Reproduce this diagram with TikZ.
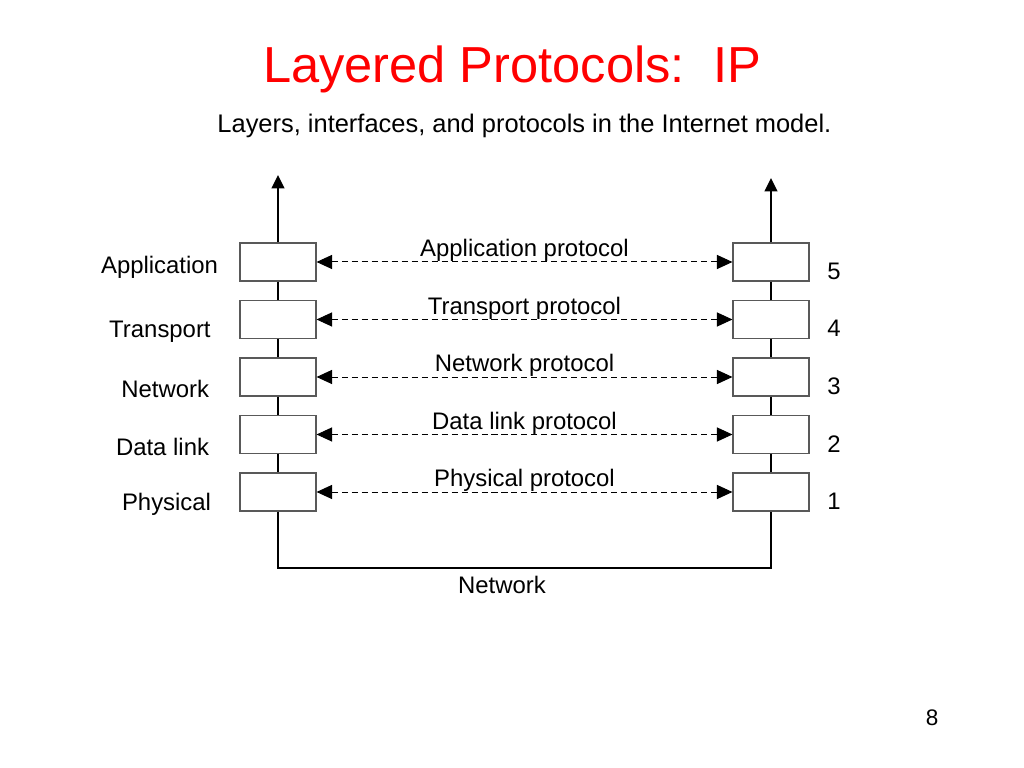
\documentclass[tikz,border=0pt]{standalone}
\usepackage{fontspec}
\setmainfont{Liberation Sans}
\usepackage{xcolor}
\usetikzlibrary{arrows.meta,positioning}
\definecolor{titlered}{RGB}{255,0,0}
\tikzset{
  layerbox/.style={draw=black!65, line width=0.8pt, fill=white, minimum width=1.9cm, minimum height=0.95cm, inner sep=0pt},
  stack/.style={line width=1.4pt},
  peer/.style={line width=0.7pt, dash pattern=on 4.3pt off 2.8pt, {Triangle[length=11pt,width=10pt]}-{Triangle[length=11pt,width=10pt]}},
  lbl/.style={font=\fontsize{17}{20}\selectfont}
}

\begin{document}
\begin{tikzpicture}
    \useasboundingbox (0,0) rectangle (25.6,19.2);

    % Title and caption
    \node[anchor=base, text=titlered, font=\fontsize{36}{40}\selectfont] (title) at (12.8,17.125) {Layered Protocols:\ \ IP};
    \node[anchor=base, font=\fontsize{18.1}{22}\selectfont] (caption) at (13.11,15.875) {Layers, interfaces, and protocols in the Internet model.};

    % Layer boxes on both hosts, with peer protocols
    \foreach \name/\lab/\n/\lx/\ly [count=\i from 0] in {app/Application/5/5.575/0.125, tra/Transport/4/5.39/0.3, net/Network/3/5.35/0.3, dl/Data link/2/5.35/0.3, phy/Physical/1/5.4/0.3} {
        \pgfmathsetmacro{\y}{12.65-1.4375*\i}
        \node[layerbox] (L\name) at (6.95,\y) {};
        \node[layerbox] (R\name) at (19.275,\y) {};
        \node[lbl, anchor=east] (T\name) at (\lx,\y-\ly) {\lab};
        \node[lbl] (N\name) at (20.85,\y-0.23) {\n};
        \draw[peer] (L\name.east) -- node[lbl, yshift=0.28cm] (P\name) {\lab{} protocol} (R\name.west);
    }

    % Vertical stacks
    \coordinate (Ltop) at (6.95,14.825);
    \coordinate (Rtop) at (19.275,14.75);
    \draw[stack, -{Triangle[length=9.5pt,width=9pt]}] (Lapp.north) -- (Ltop);
    \draw[stack, -{Triangle[length=9.5pt,width=9pt]}] (Rapp.north) -- (Rtop);
    \foreach \a/\b in {app/tra, tra/net, net/dl, dl/phy} {
        \draw[stack] (L\a.south) -- (L\b.north);
        \draw[stack] (R\a.south) -- (R\b.north);
    }

    % Physical network
    \coordinate (netL) at (6.95,5.0);
    \coordinate (netR) at (19.275,5.0);
    \draw[stack] (Lphy.south) -- (netL) -- (netR) -- (Rphy.south);
    \node[lbl] (netlbl) at (12.55,4.575) {Network};

    % Page number
    \node[font=\fontsize{16}{18}\selectfont] (page) at (23.3,1.25) {8};
\end{tikzpicture}
\end{document}
